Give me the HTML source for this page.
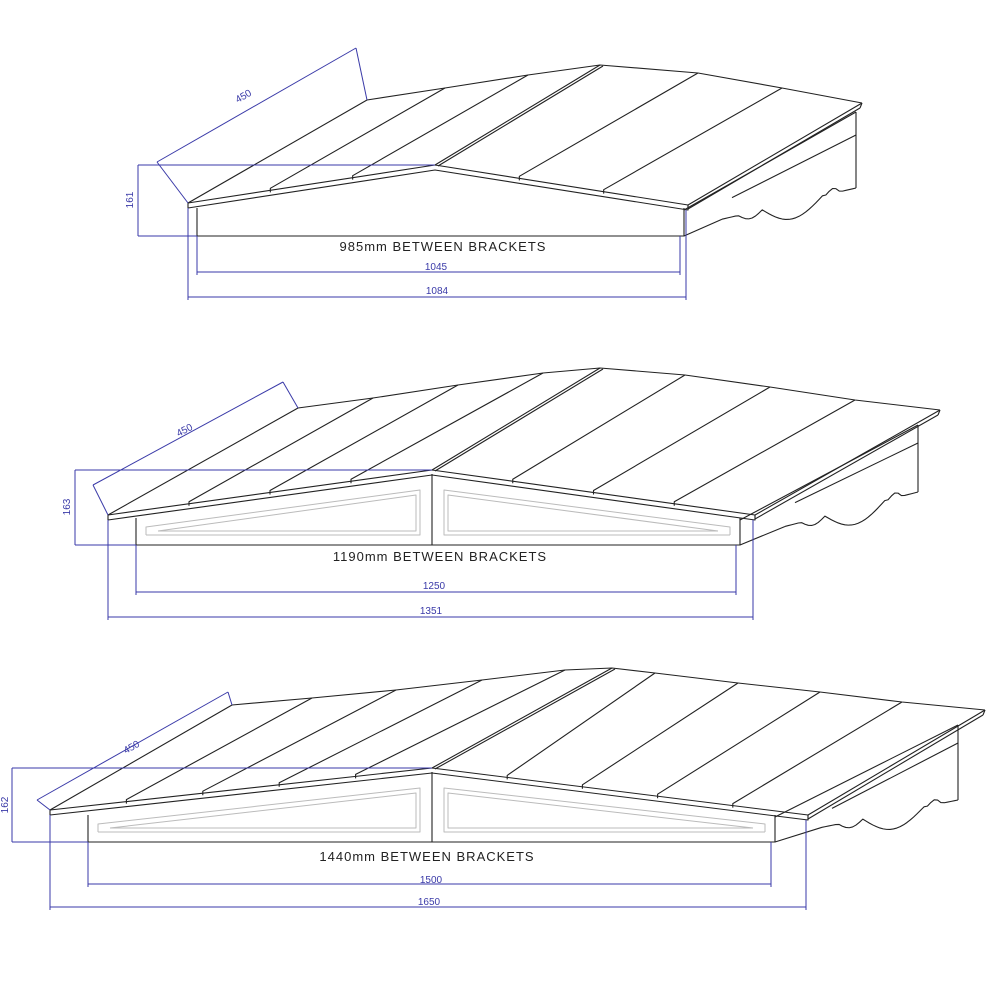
<!DOCTYPE html>
<html><head><meta charset="utf-8"><style>
html,body{margin:0;padding:0;background:#fff;}
svg{display:block;}
text{font-family:"Liberation Sans",sans-serif;}
</style></head><body>
<svg id="s" width="1000" height="1000" viewBox="0 0 1000 1000" xmlns="http://www.w3.org/2000/svg">
<g id="g" fill="none" stroke="#222" stroke-width="1.1" stroke-linejoin="round"></g>
<g id="d" fill="none" stroke="#3a3aa8" stroke-width="1"></g>
<g fill="#222" font-size="13" letter-spacing="1" text-anchor="middle">
<text x="443" y="251">985mm BETWEEN BRACKETS</text>
<text x="440" y="561">1190mm BETWEEN BRACKETS</text>
<text x="427" y="861">1440mm BETWEEN BRACKETS</text>
</g>
<g fill="#3a3aa8" font-size="10" text-anchor="middle">
<text x="436" y="270">1045</text>
<text x="437" y="294">1084</text>
<text x="434" y="589">1250</text>
<text x="431" y="614">1351</text>
<text x="431" y="883">1500</text>
<text x="429" y="905">1650</text>
<text transform="translate(245,99) rotate(-30)">450</text>
<text transform="translate(186,433) rotate(-28)">450</text>
<text transform="translate(133,750) rotate(-29)">450</text>
<text transform="translate(133,200) rotate(-90)">161</text>
<text transform="translate(70,507) rotate(-90)">163</text>
<text transform="translate(8,805) rotate(-90)">162</text>
</g>
</svg>
<script>
var g=document.getElementById('g'),d=document.getElementById('d');
function L(p,par,col,w){var e=document.createElementNS('http://www.w3.org/2000/svg','polyline');e.setAttribute('points',p.map(function(q){return q[0]+','+q[1]}).join(' '));if(col)e.setAttribute('stroke',col);if(w)e.setAttribute('stroke-width',w);(par||g).appendChild(e);return e;}
function P(p,par,col){var e=L(p,par,col);return e;}
function lerp(a,b,t){return [a[0]+(b[0]-a[0])*t,a[1]+(b[1]-a[1])*t];}
function draw(c){
 var Lf=c.lf,Rf=c.rf,BL=c.bl,BR=c.br,A=c.A,RB=c.RB;
 // right side structure
 var E=c.E; // [x, ytop, ybot]
 L([[c.fx2,c.fy+2],[E[0],E[1]]]);
 L([[E[0],E[1]],[E[0],E[2]]]);
 L([[E[0],E[1]+c.mid],[c.bx0+10,E[2]+ (c.fy2-E[2])*0.2]]);
 L([[c.fx2,c.fy2],[c.bx0,c.fy2-(c.fy2-E[2])*0.35]]);
 // bracket scallop
 var bx=c.bx0,by=c.fy2-(c.fy2-E[2])*0.35,ex=E[0],ey=E[2];
 var pts=[];var n=40;
 for(var i=0;i<=n;i++){var t=i/n;var x=bx+(ex-bx)*t;var y=by+(ey-by)*t;
  var s=0;if(t>0.12&&t<0.3)s=6*Math.sin((t-0.12)/0.18*Math.PI);
  if(t>0.3&&t<0.75)s=16*Math.sin((t-0.3)/0.45*Math.PI);
  if(t>0.78&&t<0.88)s=-5*Math.sin((t-0.78)/0.1*Math.PI);
  pts.push([x,y+s]);}
 L(pts);
 // eave side thickness
 L([[Rf[0],Rf[1]+4],[BR[0]-2,BR[1]+5]]);
 L([[Rf[0],Rf[1]],[Rf[0],Rf[1]+4]]);
 L([[BR[0],BR[1]],[BR[0]-2,BR[1]+5]]);
 // front gable
 L([[c.fx1,c.fy],[c.fx1,c.fy2],[c.fx2,c.fy2],[c.fx2,c.fy]]);
 if(c.panel){
  L([[A[0],A[1]+4],[A[0],c.fy2]]);
  var pc='#bbb';
  L([[c.fx1+10,c.fy2-10],[c.fx1+10,c.fy2-18],[A[0]-12,A[1]+20],[A[0]-12,c.fy2-10],[c.fx1+10,c.fy2-10]],g,pc,1);
  L([[c.fx1+22,c.fy2-14],[A[0]-16,A[1]+25],[A[0]-16,c.fy2-14],[c.fx1+22,c.fy2-14]],g,pc,1);
  L([[c.fx2-10,c.fy2-10],[c.fx2-10,c.fy2-18],[A[0]+12,A[1]+20],[A[0]+12,c.fy2-10],[c.fx2-10,c.fy2-10]],g,pc,1);
  L([[c.fx2-22,c.fy2-14],[A[0]+16,A[1]+25],[A[0]+16,c.fy2-14],[c.fx2-22,c.fy2-14]],g,pc,1);
 }
 // eave fascia under roof
 L([[Lf[0],Lf[1]],[Lf[0],Lf[1]+5],[A[0],A[1]+5],[Rf[0],Rf[1]+5],[Rf[0],Rf[1]]]);
 // roof outline
 L([[Lf[0],Lf[1]],[A[0],A[1]],[Rf[0],Rf[1]],[BR[0],BR[1]]]);
 L([[Lf[0],Lf[1]],[BL[0],BL[1]]]);
 // back edge
 var back=[BL].concat(c.backL).concat([RB]).concat(c.backR).concat([BR]);
 L(back);
 // ridge
 L([A,RB]);L([[A[0]+3,A[1]+1],[RB[0]+3,RB[1]+1]]);
 // boards
 var k=c.backL.length+1;
 for(var i=1;i<k;i++){var f=lerp(Lf,A,i/k);L([[f[0],f[1]+2],[f[0],f[1]-2],c.backL[i-1]]);}
 k=c.backR.length+1;
 for(var i=1;i<k;i++){var f=lerp(A,Rf,i/k);L([[f[0],f[1]+2],[f[0],f[1]-2],c.backR[i-1]]);}
 // dims
 var dm=c.dim;
 L([[dm.hx,A[1]],[A[0],A[1]]],d);L([[dm.hx,c.fy2],[c.fx1,c.fy2]],d);L([[dm.hx,A[1]],[dm.hx,c.fy2]],d);
 L([[c.fx1,c.fy2],[c.fx1,dm.y1+3]],d);L([[c.fx2-4,c.fy2],[c.fx2-4,dm.y1+3]],d);
 L([[Lf[0],Lf[1]+5],[Lf[0],dm.y2+3]],d);L([[Rf[0]-2,Rf[1]+5],[Rf[0]-2,dm.y2+3]],d);
 L([[c.fx1,dm.y1],[c.fx2-4,dm.y1]],d);L([[Lf[0],dm.y2],[Rf[0]-2,dm.y2]],d);
 L(dm.s,d);L([Lf,dm.s[0]],d);L([BL,dm.s[1]],d);
}
draw({lf:[188,203],A:[435,165],rf:[688,205],bl:[367,100],RB:[600,65],br:[862,103],
 backL:[[445,88],[528,75]],backR:[[698,73],[782,88]],
 fx1:197,fx2:684,fy:208,fy2:236,E:[856,112,188],mid:23,bx0:722,panel:false,
 dim:{hx:138,y1:272,y2:297,s:[[157,162],[356,48]]}});
draw({lf:[108,515],A:[432,470],rf:[755,515],bl:[298,408],RB:[600,368],br:[940,410],
 backL:[[373,398],[458,385],[543,373]],backR:[[685,375],[770,387],[855,400]],
 fx1:136,fx2:740,fy:518,fy2:545,E:[918,425,492],mid:18,bx0:785,panel:true,
 dim:{hx:75,y1:592,y2:617,s:[[93,485],[283,382]]}});
draw({lf:[50,810],A:[432,768],rf:[808,815],bl:[232,705],RB:[612,668],br:[985,710],
 backL:[[312,698],[396,690],[482,680],[565,670]],backR:[[655,673],[738,683],[820,692],[902,702]],
 fx1:88,fx2:775,fy:815,fy2:842,E:[958,725,800],mid:18,bx0:822,panel:true,
 dim:{hx:12,y1:884,y2:907,s:[[37,800],[228,692]]}});
</script>
</body></html>
